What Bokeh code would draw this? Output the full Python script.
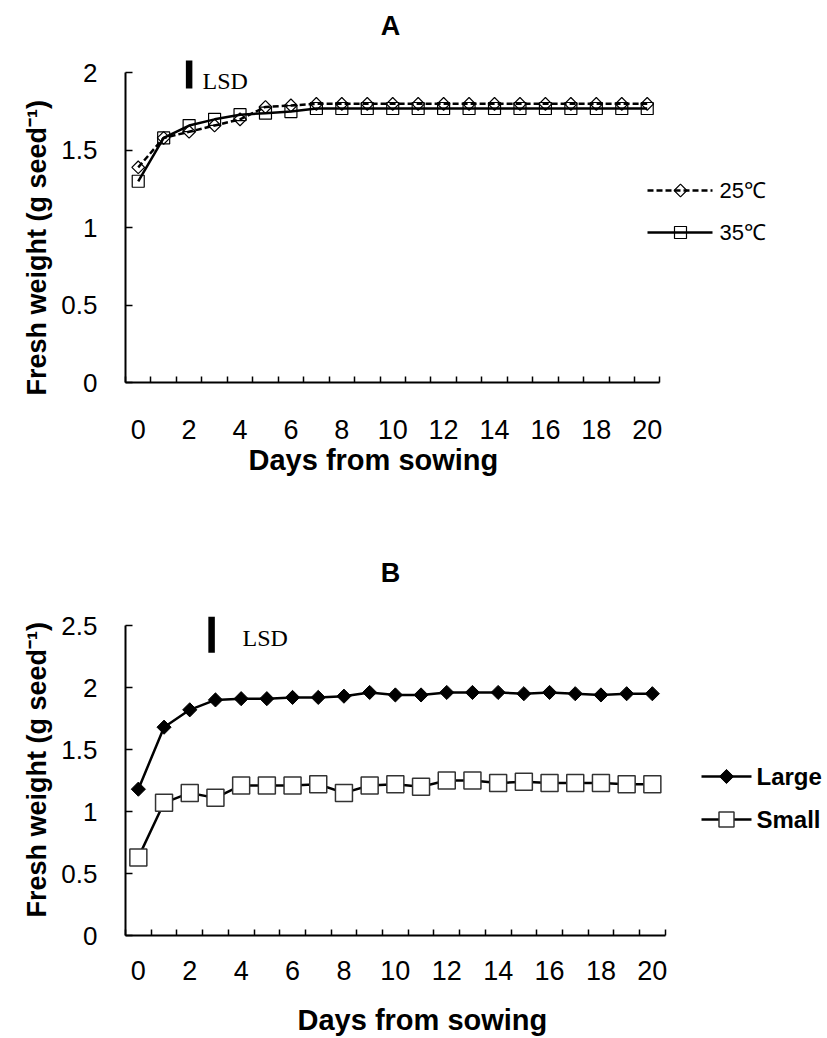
import math
from bokeh.plotting import figure
from bokeh.models import (FixedTicker, NumeralTickFormatter, Title, Range1d, Label,
                          LinearAxis)
from bokeh.layouts import column
from bokeh.embed import file_html
from bokeh.resources import INLINE

# ---------------- data ----------------
days = [0, 1, 2, 3, 4, 5, 6, 7, 8, 9, 10, 11, 12, 13, 14, 15, 16, 17, 18, 19, 20]
temp_25 = [1.39, 1.58, 1.62, 1.66, 1.70, 1.78, 1.79, 1.80, 1.80, 1.80, 1.80,
           1.80, 1.80, 1.80, 1.80, 1.80, 1.80, 1.80, 1.80, 1.80, 1.80]
temp_35 = [1.30, 1.58, 1.66, 1.70, 1.73, 1.74, 1.75, 1.77, 1.77, 1.77, 1.77,
           1.77, 1.77, 1.77, 1.77, 1.77, 1.77, 1.77, 1.77, 1.77, 1.77]
seed_large = [1.18, 1.68, 1.82, 1.90, 1.91, 1.91, 1.92, 1.92, 1.93, 1.96, 1.94,
              1.94, 1.96, 1.96, 1.96, 1.95, 1.96, 1.95, 1.94, 1.95, 1.95]
seed_small = [0.63, 1.07, 1.15, 1.11, 1.21, 1.21, 1.21, 1.22, 1.15, 1.21, 1.22,
              1.20, 1.25, 1.25, 1.23, 1.24, 1.23, 1.23, 1.23, 1.22, 1.22]
x_tick_days = [0, 2, 4, 6, 8, 10, 12, 14, 16, 18, 20]
y_ticks_a = [0, 0.5, 1, 1.5, 2]
y_ticks_b = [0, 0.5, 1, 1.5, 2, 2.5]
lsd_a_day, lsd_a_top, lsd_a = 2, 2.08, 0.18
lsd_b_day, lsd_b_top, lsd_b = 2.85, 2.57, 0.29
labels_a = ["25\u2103", "35\u2103"]
labels_b = ["Large", "Small"]
x_title = "Days from sowing"
y_title = "Fresh weight (g seed\u207b\u00b9)"

SANS = "Liberation Sans"
SERIF = "Liberation Serif"
FW = 700
LEFT = 125


def make_fig(frame_h, sx, sy, b_top, b_bottom, yticks, ymax, x_standoff):
    p = figure(frame_width=FW, frame_height=frame_h,
               x_range=Range1d(-0.5, -0.5 + FW / sx),
               y_range=Range1d(0, frame_h / sy),
               min_border_left=LEFT, min_border_right=0,
               min_border_top=b_top, min_border_bottom=b_bottom,
               output_backend="svg", toolbar_location=None, title=None)
    p.outline_line_color = None
    p.xgrid.visible = False
    p.ygrid.visible = False
    p.background_fill_color = "white"
    p.border_fill_color = "white"

    xa = p.xaxis[0]
    xa.ticker = FixedTicker(ticks=x_tick_days,
                            minor_ticks=[d - 0.5 for d in days] + [days[-1] + 0.5])
    xa.bounds = (days[0] - 0.5, days[-1] + 0.5)
    xa.axis_line_width = 2
    xa.axis_line_color = "black"
    xa.major_tick_in = 0
    xa.major_tick_out = 0
    xa.minor_tick_in = 6
    xa.minor_tick_out = 0
    xa.minor_tick_line_width = 1.5
    xa.minor_tick_line_color = "black"
    xa.major_label_text_font = SANS
    xa.major_label_text_font_size = "27px"
    xa.major_label_text_color = "black"
    xa.major_label_standoff = x_standoff

    ya = p.yaxis[0]
    ya.ticker = FixedTicker(ticks=yticks, minor_ticks=[])
    ya.formatter = NumeralTickFormatter(format="0.[0]")
    ya.bounds = (0, ymax)
    ya.axis_line_width = 2
    ya.axis_line_color = "black"
    ya.major_tick_in = 7
    ya.major_tick_out = 0
    ya.major_tick_line_width = 1.5
    ya.major_tick_line_color = "black"
    ya.minor_tick_in = 0
    ya.minor_tick_out = 0
    ya.major_label_text_font = SANS
    ya.major_label_text_font_size = "26px"
    ya.major_label_text_color = "black"
    ya.major_label_standoff = 28
    return p


def px_to_x(px, sx):
    return -0.5 + (px - LEFT) / sx


def add_spacer(p, gap):
    # invisible axis (one white tick, blank label) used only as vertical space
    sp = LinearAxis(ticker=FixedTicker(ticks=[days[-1]], minor_ticks=[]),
                    axis_line_color=None, major_tick_in=0, major_tick_out=gap,
                    minor_tick_in=0, minor_tick_out=0, major_label_standoff=0,
                    major_tick_line_color="white", minor_tick_line_color=None,
                    major_label_overrides={days[-1]: ""},
                    major_label_text_font_size="1px")
    p.add_layout(sp, "below")


def add_x_title(p, start_px, standoff):
    p.add_layout(Title(text=x_title, align="left", offset=start_px - LEFT,
                       text_font=SANS, text_font_size="29px", text_font_style="bold",
                       text_color="black", standoff=standoff), "below")


def add_y_title(p, offset):
    p.add_layout(Title(text=y_title, align="left", offset=offset,
                       text_font=SANS, text_font_size="27px", text_font_style="bold",
                       text_color="black", standoff=14), "left")


def add_text(p, x, y, text, font, size, style="normal", align="left"):
    p.add_layout(Label(x=x, y=y, text=text, text_font=font, text_font_size=size,
                       text_font_style=style, text_align=align,
                       text_baseline="middle", text_color="black"))


# ---------------- Panel A ----------------
SXA, SYA = 25.45, 154.8
A_TOP, FHA = 11, 371
A_BOTTOM = A_TOP + FHA
A_BB = 170
pA = make_fig(FHA, SXA, SYA, A_TOP, A_BB, y_ticks_a, 2, 37)


def ya_px(py):
    return (A_BOTTOM - py) / SYA


pA.line(days, temp_25, line_color="black", line_width=2.5, line_dash="6 3")
pA.line(days, temp_35, line_color="black", line_width=2.5)
pA.scatter(days, temp_25, marker="square", angle=math.pi / 4, size=9,
           fill_color=None, line_color="black", line_width=1.2)
pA.scatter(days, temp_35, marker="square", size=12,
           fill_color=None, line_color="black", line_width=1.2)

pA.segment(x0=[lsd_a_day], y0=[lsd_a_top - lsd_a], x1=[lsd_a_day], y1=[lsd_a_top],
           line_width=6.5, line_color="black", line_cap="butt")
add_text(pA, px_to_x(202, SXA), ya_px(80), "LSD", SERIF, "24px")
add_text(pA, px_to_x(390, SXA), ya_px(25), "A", SANS, "27px", "bold", "center")

# legend A (drawn by hand so the markers match the plot)
rows_a = [ya_px(190), ya_px(232)]
pA.segment(x0=[px_to_x(647, SXA)], y0=[rows_a[0]], x1=[px_to_x(712, SXA)], y1=[rows_a[0]],
           line_color="black", line_width=2.5, line_dash="6 3")
pA.segment(x0=[px_to_x(647, SXA)], y0=[rows_a[1]], x1=[px_to_x(712, SXA)], y1=[rows_a[1]],
           line_color="black", line_width=2.5)
pA.scatter([px_to_x(680, SXA)], [rows_a[0]], marker="square", angle=math.pi / 4, size=9,
           fill_color=None, line_color="black", line_width=1.2)
pA.scatter([px_to_x(680, SXA)], [rows_a[1]], marker="square", size=12,
           fill_color=None, line_color="black", line_width=1.2)
for lab, yy in zip(labels_a, rows_a):
    add_text(pA, px_to_x(719, SXA), yy, lab, SANS, "22px")

add_x_title(pA, 248, 0)
add_y_title(pA, -13)

# ---------------- Panel B ----------------
SXB, SYB = 25.7, 124.0
B_TOP_FIG = A_TOP + FHA + A_BB
B_BOTTOM = 935
FHB = B_BOTTOM - B_TOP_FIG
pB = make_fig(FHB, SXB, SYB, 0, 100, y_ticks_b, 2.5, 25)


def yb_px(py):
    return (B_BOTTOM - py) / SYB


pB.line(days, seed_large, line_color="black", line_width=2.5)
pB.line(days, seed_small, line_color="black", line_width=2.5)
pB.scatter(days, seed_large, marker="square", angle=math.pi / 4, size=10,
           fill_color="black", line_color="black", line_width=1)
pB.scatter(days, seed_small, marker="square", size=17,
           fill_color="white", line_color="#333333", line_width=1.5)

pB.segment(x0=[lsd_b_day], y0=[lsd_b_top - lsd_b], x1=[lsd_b_day], y1=[lsd_b_top],
           line_width=6.5, line_color="black", line_cap="butt")
add_text(pB, px_to_x(242, SXB), yb_px(637.5), "LSD", SERIF, "24px")
add_text(pB, px_to_x(390, SXB), yb_px(572), "B", SANS, "27px", "bold", "center")

rows_b = [yb_px(776), yb_px(819)]
for yy in rows_b:
    pB.segment(x0=[px_to_x(701, SXB)], y0=[yy], x1=[px_to_x(751, SXB)], y1=[yy],
               line_color="black", line_width=2.5)
pB.scatter([px_to_x(726, SXB)], [rows_b[0]], marker="square", angle=math.pi / 4, size=10,
           fill_color="black", line_color="black", line_width=1)
pB.scatter([px_to_x(726, SXB)], [rows_b[1]], marker="square", size=15,
           fill_color="white", line_color="#333333", line_width=1.5)
for lab, yy in zip(labels_b, rows_b):
    add_text(pB, px_to_x(756, SXB), yy, lab, SANS, "24px", "bold")

add_spacer(pB, 18)
add_x_title(pB, 297, 2)
add_y_title(pB, 18)

layout = column(pA, pB)
open("out.html", "w").write(file_html(layout, INLINE))
